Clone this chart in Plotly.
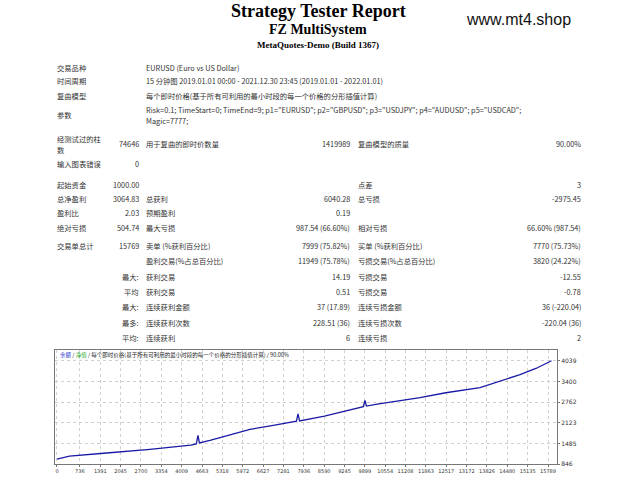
import plotly.graph_objects as go

W, H = 640, 480
trades = [0, 400, 1500, 2990, 4300, 4480, 4534, 4580, 4920, 6206, 7000, 7700, 7750, 7800, 8600, 9422, 9850, 9904, 9950, 10300, 11673, 12500, 13603, 14889, 15400, 15900]
balance = [1000, 1090, 1180, 1300, 1430, 1470, 1730, 1500, 1580, 1920, 2050, 2170, 2400, 2180, 2330, 2510, 2620, 2810, 2640, 2700, 2900, 3050, 3210, 3610, 3800, 4039]
xticks = [0, 736, 1391, 2045, 2700, 3354, 4009, 4663, 5318, 5972, 6627, 7281, 7936, 8590, 9245, 9899, 10554, 11208, 11863, 12517, 13172, 13826, 14480, 15135, 15789]
yticks = [846, 1485, 2123, 2762, 3400, 4039]

def px(x): return x / W
def py(y): return 1 - y / H

fig = go.Figure()
fig.add_trace(go.Scatter(x=trades, y=balance, mode="lines", line=dict(color="#1a1aa6", width=1.3), hoverinfo="skip"))

ann = []
def T(x, y, s, anchor="left", size=7.3, color="#333", family="Noto Sans CJK SC, DejaVu Sans", bold=False):
    if bold: s = "<b>%s</b>" % s
    ann.append(dict(x=px(x), y=py(y), xref="paper", yref="paper", text=s, showarrow=False,
                    xanchor=anchor, yanchor="middle", font=dict(size=size, color=color, family=family)))

T(318, 11, "Strategy Tester Report", "center", 18, "#000", "Liberation Serif", True)
T(318, 30, "FZ MultiSystem", "center", 14, "#000", "Liberation Serif", True)
T(318, 45, "MetaQuotes-Demo (Build 1367)", "center", 9, "#000", "Liberation Serif", True)
T(518, 20, "www.mt4.shop", "center", 16, "#111", "Liberation Sans")

L1, V1, L2, V2, L3, V3 = 55, 141, 144, 352, 356, 583
T(L1, 68, "交易品种"); T(L2, 68, "EURUSD (Euro vs US Dollar)")
T(L1, 82, "时间周期"); T(L2, 82, "15 分钟图 2019.01.01 00:00 - 2021.12.30 23:45 (2019.01.01 - 2022.01.01)")
T(L1, 97, "复曲模型"); T(L2, 97, "每个即时价格(基于所有可利用的最小时段的每一个价格的分形插值计算)")
T(L1, 116, "参数")
T(L2, 111, 'Risk=0.1; TimeStart=0; TimeEnd=9; p1="EURUSD"; p2="GBPUSD"; p3="USDJPY"; p4="AUDUSD"; p5="USDCAD";')
T(L2, 122, "Magic=7777;")
T(L1, 140, "经测试过的柱"); T(L1, 151, "数")
T(V1, 145, "74646", "right"); T(L2, 145, "用于复曲的即时价数量"); T(V2, 145, "1419989", "right")
T(L3, 145, "复曲模型的质量"); T(V3, 145, "90.00%", "right")
T(L1, 165, "输入图表错误"); T(V1, 165, "0", "right")

rows = [
    (186, "起始资金", "1000.00", "", "", "点差", "3"),
    (200, "总净盈利", "3064.83", "总获利", "6040.28", "总亏损", "-2975.45"),
    (214, "盈利比", "2.03", "预期盈利", "0.19", "", ""),
    (229, "绝对亏损", "504.74", "最大亏损", "987.54 (66.60%)", "相对亏损", "66.60% (987.54)"),
    (248, "交易单总计", "15769", "卖单 (%获利百分比)", "7999 (75.82%)", "买单 (%获利百分比)", "7770 (75.73%)"),
    (263, "", "", "盈利交易(%占总百分比)", "11949 (75.78%)", "亏损交易(%占总百分比)", "3820 (24.22%)"),
    (279, "", "最大:", "获利交易", "14.19", "亏损交易", "-12.55"),
    (294, "", "平均", "获利交易", "0.51", "亏损交易", "-0.78"),
    (309, "", "最大:", "连续获利金额", "37 (17.89)", "连续亏损金额", "36 (-220.04)"),
    (325, "", "最多:", "连续获利次数", "228.51 (36)", "连续亏损次数", "-220.04 (36)"),
    (340, "", "平均:", "连续获利", "6", "连续亏损", "2"),
]
for y, a, b, c, d, e, f in rows:
    if a: T(L1, y, a)
    if b: T(V1, y, b, "right")
    if c: T(L2, y, c)
    if d: T(V2, y, d, "right")
    if e: T(L3, y, e)
    if f: T(V3, y, f, "right")

T(58, 357, '<span style="color:#2233cc">余额</span> / <span style="color:#22aa22">净值</span> / 每个即时价格(基于所有可利用的最小时段的每一个价格的分形插值计算) / 90.00%', size=5.5, color="#222")

fig.update_layout(
    width=W, height=H, margin=dict(l=0, r=0, t=0, b=0),
    paper_bgcolor="white", plot_bgcolor="white", showlegend=False, annotations=ann,
    xaxis=dict(domain=[px(55), px(557)], range=[-64, 16078], tickvals=xticks, ticktext=[str(v) for v in xticks],
               tickangle=0, tickfont=dict(size=5, color="#333", family="DejaVu Sans"), showgrid=True, gridcolor="#d0d0d0",
               griddash="dot", zeroline=False, showline=True, linecolor="#777", mirror=True,
               ticks="outside", ticklen=2, tickcolor="#777"),
    yaxis=dict(domain=[py(467), py(352)], range=[846, 4377], tickvals=yticks, side="right",
               tickfont=dict(size=6, color="#333", family="DejaVu Sans"), showgrid=True, gridcolor="#d0d0d0",
               griddash="dot", zeroline=False, showline=True, linecolor="#777", mirror=True,
               ticks="outside", ticklen=2, tickcolor="#777"),
)
fig.write_html("out.html", config={"displayModeBar": False},
               post_script="document.body.style.margin='0';document.body.style.padding='0';")
